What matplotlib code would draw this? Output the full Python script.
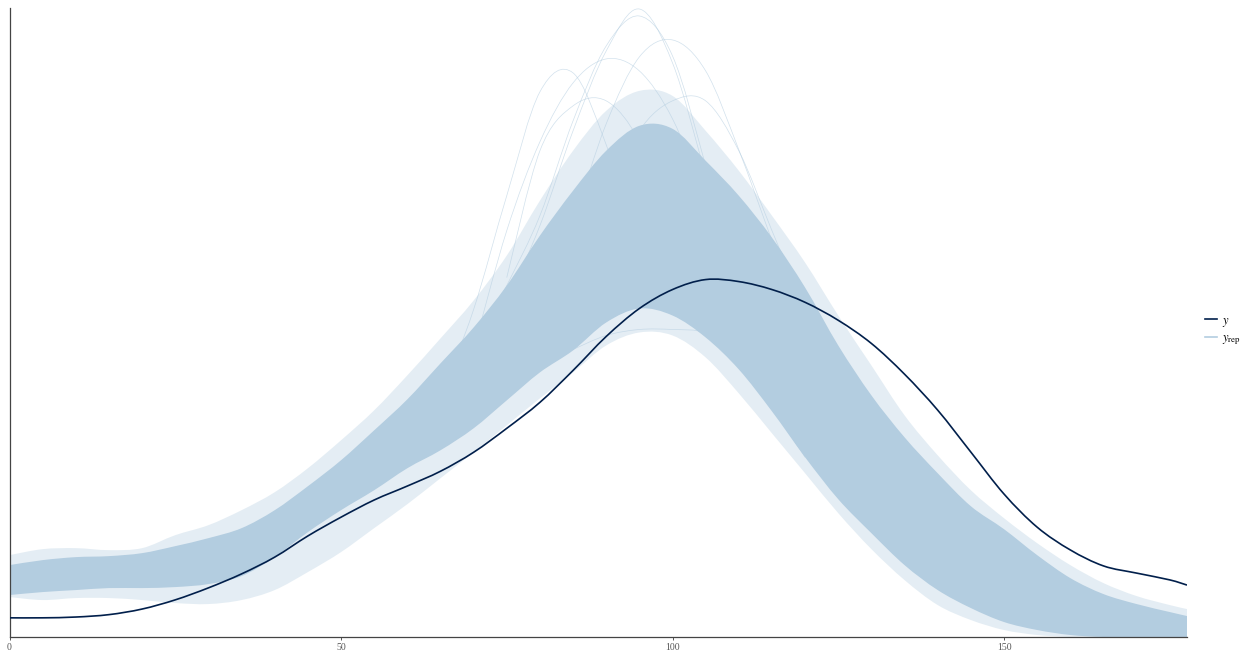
import numpy as np
import matplotlib
matplotlib.use("Agg")
import matplotlib.pyplot as plt
from matplotlib.lines import Line2D
from matplotlib.path import Path
from matplotlib.patches import PathPatch

plt.rcParams["font.family"] = ["Liberation Serif", "DejaVu Serif"]
plt.rcParams["mathtext.fontset"] = "stix"

# Evaluation grid shared by the observed curve and the replicate envelopes
x_grid = [0, 5, 10, 15, 20, 25, 30, 35, 40, 45, 50, 55, 60, 65, 70, 75, 80, 85, 90,
          95, 100, 105, 110, 115, 120, 125, 130, 135, 140, 145, 150, 155, 160, 165,
          170, 175, 177.6]

# Kernel density of the observed data (density x 1e4)
dens_y = [4.8, 4.8, 5.0, 5.6, 7.0, 9.3, 12.3, 15.8, 20.0, 25.3, 30.0, 34.3, 37.8,
          41.5, 46.25, 52.25, 58.75, 66.75, 75.25, 82.25, 87.0, 89.5, 89.0, 87.0,
          83.8, 79.3, 73.5, 65.8, 56.8, 46.3, 35.8, 27.5, 21.8, 17.8, 16.0, 14.3, 13.0]

# Bulk of the replicated densities: where most y_rep draws lie
yrep_core_hi = [18.0, 19.25, 20.0, 20.25, 21.0, 22.75, 24.75, 27.25, 31.75, 37.75,
                44.25, 51.75, 59.5, 68.5, 77.5, 88.0, 100.5, 111.75, 121.75, 128.0,
                127.25, 119.25, 110.5, 100.0, 87.5, 73.0, 60.5, 50.0, 41.0, 32.75,
                27.0, 20.5, 14.75, 10.75, 8.25, 6.25, 5.25]
yrep_core_lo = [10.5, 11.25, 11.75, 12.25, 12.25, 12.5, 13.25, 15.25, 20.0, 26.25,
                31.75, 36.75, 42.25, 46.75, 52.25, 59.25, 66.25, 71.75, 78.75, 82.25,
                80.5, 75.0, 67.0, 56.5, 45.0, 34.5, 26.0, 18.0, 11.75, 7.25, 3.75,
                1.75, 0.5, 0.0, 0.0, 0.0, 0.0]

# Outer spread of the replicated densities
yrep_outer_hi = [20.5, 22.0, 22.25, 21.75, 22.25, 25.5, 28.0, 31.75, 36.25, 42.25,
                 49.25, 56.75, 65.5, 74.75, 84.25, 95.5, 109.25, 121.75, 131.75,
                 136.75, 135.5, 126.75, 116.75, 105.5, 93.75, 80.5, 68.0, 55.5, 45.5,
                 36.75, 29.75, 23.5, 18.0, 13.5, 10.25, 8.0, 7.0]
yrep_outer_lo = [10.0, 9.25, 9.75, 9.75, 9.25, 8.5, 8.25, 9.25, 11.75, 16.25, 21.25,
                 27.25, 33.25, 39.75, 46.25, 53.0, 59.75, 66.25, 73.0, 76.25, 75.5,
                 70.0, 61.0, 51.0, 41.0, 31.0, 22.0, 14.25, 8.0, 4.25, 1.75, 0.5,
                 0.0, 0.0, 0.0, 0.0, 0.0]

# Individual replicate densities that stand out from the bulk
draw_a_x = [70, 75, 80, 85, 90, 95, 100, 105, 110, 115, 120]
draw_a = [69.25, 84.25, 103.0, 126.75, 146.75, 157.25, 143.75, 115.5, 84.25, 59.25, 45.0]
draw_b_x = [70, 75, 80, 85, 90, 95, 100, 105, 110, 115, 120]
draw_b = [71.75, 88.0, 105.5, 129.25, 148.0, 155.5, 145.5, 118.0, 86.75, 61.75, 47.0]
draw_c_x = [80, 85, 90, 95, 100, 105, 110, 115, 120, 125]
draw_c = [84.25, 104.25, 128.5, 145.25, 149.5, 141.75, 122.0, 99.25, 76.75, 56.75]
draw_d_x = [65, 70, 75, 80, 85, 90, 95, 100]
draw_d = [60.0, 82.0, 110.5, 136.5, 141.25, 123.25, 98.0, 82.0]
draw_e_x = [70, 75, 80, 85, 90, 95, 100, 105, 110]
draw_e = [72.0, 101.75, 124.0, 138.75, 144.75, 141.75, 129.75, 109.25, 89.25]
draw_f_x = [85, 90, 95, 100, 105, 110, 115]
draw_f = [72.0, 75.5, 77.0, 77.0, 76.25, 71.75, 63.0]
draw_g_x = [90, 95, 100, 105, 110, 115, 120]
draw_g = [109.25, 126.75, 134.25, 134.25, 121.75, 101.75, 81.75]
draw_h_x = [75, 80, 85, 90, 95, 100]
draw_h = [90.0, 121.75, 133.0, 134.25, 124.25, 104.25]

x_ticks = [0, 50, 100, 150]

DARK = "#011f4b"
LIGHT = "#b3cde0"
SCALE = 1e-4


def smooth_segments(x, y):
    """Vertices and codes of a cubic Bezier path passing through every point."""
    pts = np.column_stack([np.asarray(x, float), np.asarray(y, float)])
    n = len(pts)
    verts, codes = [pts[0]], [Path.MOVETO]
    for i in range(n - 1):
        p0 = pts[i - 1] if i > 0 else pts[i]
        p1, p2 = pts[i], pts[i + 1]
        p3 = pts[i + 2] if i + 2 < n else pts[i + 1]
        verts += [p1 + (p2 - p0) / 6.0, p2 - (p3 - p1) / 6.0, p2]
        codes += [Path.CURVE4] * 3
    return verts, codes


def smooth_line(ax, x, y, **kw):
    verts, codes = smooth_segments(x, y)
    ax.add_patch(PathPatch(Path(verts, codes), fill=False, **kw))


def smooth_band(ax, x, lo, hi, **kw):
    v_hi, c_hi = smooth_segments(x, hi)
    v_lo, c_lo = smooth_segments(x[::-1], lo[::-1])
    c_lo = [Path.LINETO] + c_lo[1:]
    verts = v_hi + v_lo + [v_hi[0]]
    codes = c_hi + c_lo + [Path.CLOSEPOLY]
    ax.add_patch(PathPatch(Path(verts, codes), linewidth=0, **kw))


W, H = 1247, 653
fig = plt.figure(figsize=(W / 100, H / 100), dpi=100)
ax = fig.add_axes([9.5 / W, (H - 637) / H, (1187 - 9.5) / W, (637 - 8) / H])

xg = np.array(x_grid, float)
smooth_band(ax, xg, np.array(yrep_outer_lo) * SCALE, np.array(yrep_outer_hi) * SCALE,
            facecolor=LIGHT, alpha=0.35)
smooth_band(ax, xg, np.array(yrep_core_lo) * SCALE, np.array(yrep_core_hi) * SCALE,
            facecolor=LIGHT, alpha=1.0)

for dx, dv in [(draw_a_x, draw_a), (draw_b_x, draw_b), (draw_c_x, draw_c),
               (draw_d_x, draw_d), (draw_e_x, draw_e), (draw_f_x, draw_f),
               (draw_g_x, draw_g), (draw_h_x, draw_h)]:
    smooth_line(ax, dx, np.array(dv) * SCALE, edgecolor=LIGHT, alpha=0.6,
                linewidth=0.5)

smooth_line(ax, xg, np.array(dens_y) * SCALE, edgecolor=DARK, linewidth=1.2,
            zorder=3)

ax.set_xlim(0, 177.6)
ax.set_ylim(0, 157.5 * SCALE)
ax.set_xticks(x_ticks)
ax.set_xticklabels([str(t) for t in x_ticks])
ax.set_yticks([])
ax.tick_params(axis="x", length=2.5, width=0.7, color="#555555", labelsize=7,
               labelcolor="#555555", pad=2)
for side in ["top", "right"]:
    ax.spines[side].set_visible(False)
for side in ["left", "bottom"]:
    ax.spines[side].set_color("#444444")
    ax.spines[side].set_linewidth(0.9)
ax.patch.set_alpha(0)

handles = [Line2D([], [], color=DARK, linewidth=1.2),
           Line2D([], [], color=LIGHT, linewidth=1.2)]
fig.legend(handles, [r"$y$", r"$y_{\mathrm{rep}}$"], loc="center left",
           bbox_to_anchor=(1194 / W, (H - 331) / H), frameon=False, fontsize=9,
           handlelength=0.9, handletextpad=0.4, labelspacing=0.3)

fig.savefig("out.png", dpi=100)
